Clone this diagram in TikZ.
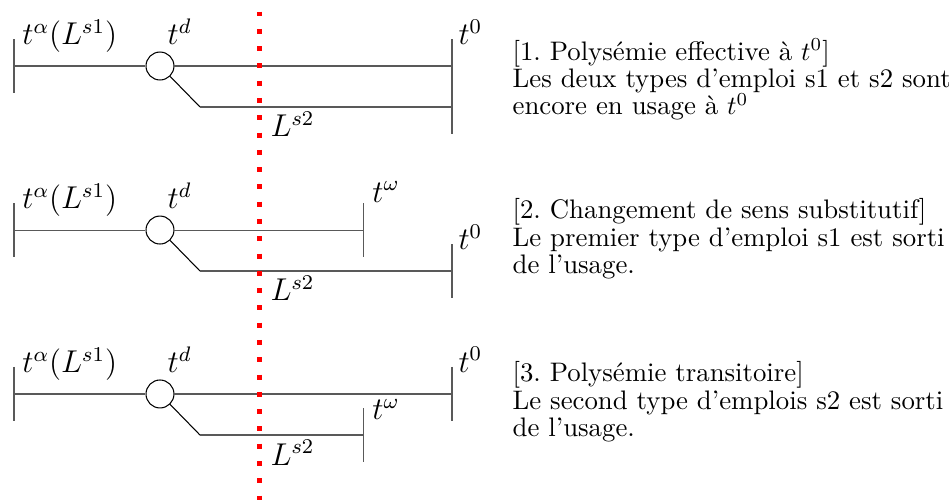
\documentclass[tikz,border=0pt]{standalone}
\usetikzlibrary{positioning}

\begin{document}
\begin{tikzpicture}[
  noeud/.style={circle, draw, fill=white, minimum size=0.374cm, inner sep=0pt},
  trait/.style={draw=black!65},
  lbl/.style={font=\large, inner sep=0pt},
  texte/.style={align=left, anchor=north west, inner sep=0pt, font={\fontsize{10.2}{10.4}\selectfont}},
  rouge/.style={draw=red, line width=1.9pt, dash pattern=on 1.9pt off 4.68pt}
]
\useasboundingbox (0,0) rectangle (12.694,-6.675);
\coordinate (r0) at (3.471,-0.154);
\coordinate (r1) at (3.471,-6.8);

% 1. polysemie effective
\coordinate (a1) at (0.187,-0.883);
\node[noeud] (d1) at (2.140,-0.883) {};
\coordinate (k1) at (2.675,-1.431);
\coordinate (e1) at (6.046,-0.883);
\coordinate (m1) at (6.046,-1.431);
\draw[trait] (a1) ++(0,0.361) -- ++(0,-0.722);
\draw[trait] (a1) -- (d1) -- (e1);
\draw (d1) -- (k1);
\draw[trait] (k1) -- (m1);
\draw[trait] (e1) ++(0,0.361) -- (m1) -- ++(0,-0.361);
\coordinate (x1) at (r0 |- k1);
\node[lbl, above right=4.9pt and 3pt of a1] (ta1) {$t^\alpha(L^{s1})$};
\node[lbl, above right=2.3pt and 2.7pt of d1.north] (td1) {$t^d$};
\node[lbl, above right=8pt and 2.3pt of e1] (t01) {$t^0$};
\node[lbl, below right=1.7pt and 4pt of x1] (ls1) {$L^{s2}$};
\node[texte] (c1) at (6.85,-0.51) {[1.\ Polysémie effective à $t^0$]\\ Les deux types d'emploi s1 et s2 sont\\ encore en usage à $t^0$};

% 2. changement de sens
\coordinate (a2) at (0.187,-3.077);
\node[noeud] (d2) at (2.140,-3.077) {};
\coordinate (k2) at (2.675,-3.625);
\coordinate (w2) at (4.856,-3.077);
\coordinate (e2) at (6.046,-3.625);
\draw[trait] (a2) ++(0,0.361) -- ++(0,-0.722);
\draw[trait] (w2) ++(0,0.361) -- ++(0,-0.722);
\draw[trait] (e2) ++(0,0.361) -- ++(0,-0.722);
\draw[trait] (a2) -- (d2) -- (w2);
\draw (d2) -- (k2);
\draw[trait] (k2) -- (e2);
\coordinate (x2) at (r0 |- k2);
\node[lbl, above right=4.9pt and 3pt of a2] (ta2) {$t^\alpha(L^{s1})$};
\node[lbl, above right=2.3pt and 2.7pt of d2.north] (td2) {$t^d$};
\node[lbl, above right=10.3pt and 3.4pt of w2] (tw2) {$t^\omega$};
\node[lbl, above right=8pt and 2.3pt of e2] (t02) {$t^0$};
\node[lbl, below right=1.7pt and 4pt of x2] (ls2) {$L^{s2}$};
\node[texte] (c2) at (6.85,-2.653) {[2.\ Changement de sens substitutif]\\ Le premier type d'emploi s1 est sorti\\ de l'usage.};

% 3. polysemie transitoire
\coordinate (a3) at (0.187,-5.270);
\node[noeud] (d3) at (2.140,-5.270) {};
\coordinate (k3) at (2.675,-5.819);
\coordinate (e3) at (6.046,-5.270);
\coordinate (w3) at (4.856,-5.819);
\draw[trait] (a3) ++(0,0.361) -- ++(0,-0.722);
\draw[trait] (e3) ++(0,0.361) -- ++(0,-0.722);
\draw[trait] (w3) ++(0,0.361) -- ++(0,-0.722);
\draw[trait] (a3) -- (d3) -- (e3);
\draw (d3) -- (k3);
\draw[trait] (k3) -- (w3);
\coordinate (x3) at (r0 |- k3);
\node[lbl, above right=4.9pt and 3pt of a3] (ta3) {$t^\alpha(L^{s1})$};
\node[lbl, above right=2.3pt and 2.7pt of d3.north] (td3) {$t^d$};
\node[lbl, above right=8pt and 2.3pt of e3] (t03) {$t^0$};
\node[lbl, above right=5.7pt and 3.4pt of w3] (tw3) {$t^\omega$};
\node[lbl, below right=1.7pt and 4pt of x3] (ls3) {$L^{s2}$};
\node[texte] (c3) at (6.85,-4.833) {[3.\ Polysémie transitoire]\\ Le second type d'emplois s2 est sorti\\ de l'usage.};

% ligne rouge
\draw[rouge] (r0) -- (r1);
\end{tikzpicture}
\end{document}
